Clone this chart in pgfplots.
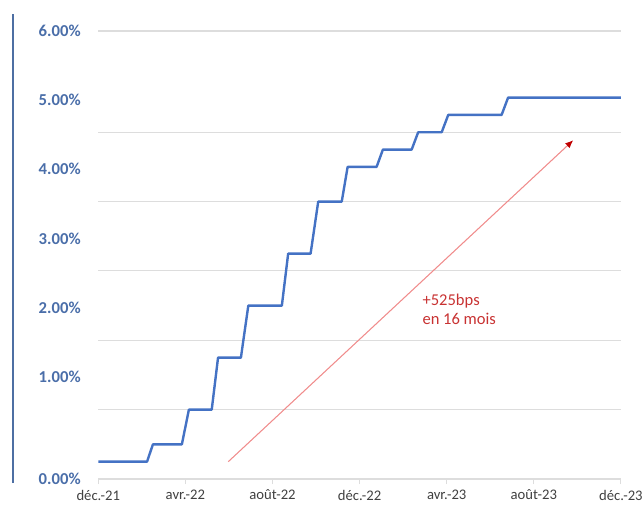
\documentclass[border=0pt]{standalone}
\usepackage{pgfplots}
\pgfplotsset{compat=1.18}
\usepackage{fontspec}
\setmainfont{Carlito}
\usetikzlibrary{arrows.meta}

\definecolor{fedblue}{HTML}{4472C4}
\definecolor{labblue}{HTML}{4A6EA9}
\definecolor{barblue}{HTML}{4E6FA3}
\definecolor{gridgray}{HTML}{DDDDDD}
\definecolor{arrowred}{RGB}{240,140,140}
\definecolor{tipred}{HTML}{C00000}
\definecolor{txtred}{HTML}{C83232}

\begin{document}
\begin{tikzpicture}
\begin{axis}[
    scale only axis,
    width=392pt, height=336pt,
    at={(0,0)}, anchor=south west,
    xmin=0, xmax=24,
    ymin=0, ymax=6.46,
    axis lines*=left,
    y axis line style={draw=none},
    x axis line style={draw=gridgray, line width=1pt},
    tick align=outside,
    xtick={0,4,8,12,16,20,24},
    xticklabels={déc.-21,avr.-22,août-22,déc.-22,avr.-23,août-23,déc.-23},
    xtick style={draw=gridgray, line width=0.8pt},
    x tick label style={font=\fontsize{11}{12}\selectfont, text=black!75, anchor=north, inner sep=0pt, yshift=-4pt},
    major tick length=4pt,
    ytick={0,1.47,2.47,3.47,4.47,5.47,6.46},
    yticklabels={0.00\%,1.00\%,2.00\%,3.00\%,4.00\%,5.00\%,6.00\%},
    ytick style={draw=none},
    y tick label style={font=\bfseries\fontsize{12.5}{14}\selectfont, text=labblue, anchor=east, inner sep=0pt, xshift=-9pt},
    extra y ticks={1,2,3,4,5,6.46},
    extra y tick labels={},
    extra y tick style={grid=major, tick style={draw=none}},
    grid style={draw=gridgray, line width=0.8pt},
    /pgf/number format/assume math mode=true,
    clip=false,
]
    % fed funds upper bound, step at each hike
    \addplot[fedblue, line width=1.8pt, line join=round] coordinates {
        (0,0.25) (2.24,0.25) (2.51,0.5) (3.84,0.5) (4.16,1.0) (5.21,1.0)
        (5.50,1.75) (6.55,1.75) (6.89,2.5) (8.43,2.5) (8.72,3.25) (9.75,3.25)
        (10.10,4.0) (11.18,4.0) (11.45,4.5) (12.78,4.5) (13.07,4.75) (14.39,4.75)
        (14.69,5.0) (15.77,5.0) (16.07,5.25) (18.52,5.25) (18.82,5.5) (24,5.5)
    };
    % trend arrow
    \addplot[arrowred, line width=0.8pt, -{Latex[length=6pt,width=5pt,color=tipred]}] coordinates {
        (5.97,0.25) (21.81,4.885)
    };
    \node[anchor=west, align=left, text=txtred, inner sep=0pt,
          font=\fontsize{12.4}{14.3}\selectfont] at (axis cs:14.88,2.45) {+525bps\\en 16 mois};
\end{axis}
\draw[barblue, line width=1.9pt] (-64pt,-3pt) -- (-64pt,348.75pt);
\pgfresetboundingbox
\path[use as bounding box] (-73.7pt,-18.75pt) rectangle (407.8pt,359.25pt);
\end{tikzpicture}
\end{document}
